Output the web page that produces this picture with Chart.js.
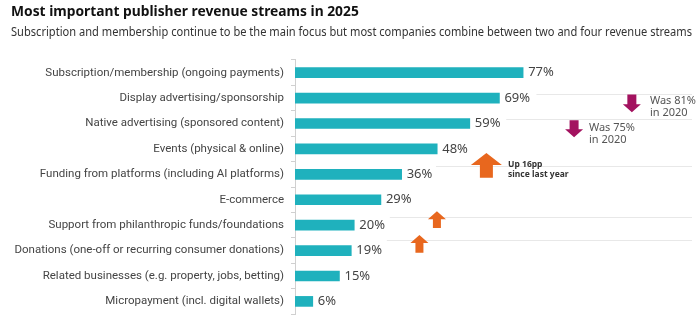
<!DOCTYPE html>
<html>
<head>
<meta charset="utf-8">
<script src="https://cdn.jsdelivr.net/npm/chart.js@4"></script>
<style>
  html, body { margin: 0; padding: 0; background: #fff; }
  #wrap { width: 700px; height: 328px; position: relative; }
</style>
</head>
<body>
<div id="wrap"><canvas id="streams"></canvas></div>
<script>
const categories = [
  'Subscription/membership (ongoing payments)',
  'Display advertising/sponsorship',
  'Native advertising (sponsored content)',
  'Events (physical & online)',
  'Funding from platforms (including AI platforms)',
  'E-commerce',
  'Support from philanthropic funds/foundations',
  'Donations (one-off or recurring consumer donations)',
  'Related businesses (e.g. property, jobs, betting)',
  'Micropayment (incl. digital wallets)',
];
const shares = [77, 69, 59, 48, 36, 29, 20, 19, 15, 6];

const FONT = '"Noto Sans", "Open Sans", sans-serif';
const TICK_FONT = 'Roboto, "Noto Sans", sans-serif';
const TEAL = '#1fb1bd';
const MAGENTA = '#a3125f';
const ORANGE = '#e8671e';

// notes drawn on the right: x in % units, y as fractional category index
const guideLines = [
  { y: 0.82, from: 81.5 },
  { y: 1.82, from: 71.3 },
  { y: 3.67, from: 47.6 },
  { y: 5.69, from: 32 },
  { y: 6.6, from: 31 },
];
const arrows = [
  { x: 113.7, top: 0.86, bottom: 1.56, dir: 'down', color: MAGENTA, w: 18, head: 8, shaft: 9 },
  { x: 94.2, top: 1.87, bottom: 2.54, dir: 'down', color: MAGENTA, w: 18, head: 8, shaft: 9 },
  { x: 64.6, top: 3.16, bottom: 4.13, dir: 'up', color: ORANGE, w: 31, head: 12, shaft: 13 },
  { x: 47.9, top: 5.45, bottom: 6.11, dir: 'up', color: ORANGE, w: 18, head: 8, shaft: 8 },
  { x: 42.0, top: 6.39, bottom: 7.09, dir: 'up', color: ORANGE, w: 18, head: 8, shaft: 8 },
];
const notes = [
  { x: 119.8, lines: [['Was 81%', 1.1], ['in 2020', 1.6]], bold: false },
  { x: 99.2, lines: [['Was 75%', 2.18], ['in 2020', 2.65]], bold: false },
  { x: 71.9, lines: [['Up 16pp', 3.62], ['since last year', 4.01]], bold: true },
];

const valueLabels = {
  id: 'valueLabels',
  afterDatasetsDraw(chart) {
    const { ctx } = chart;
    const meta = chart.getDatasetMeta(0);
    ctx.save();
    ctx.font = `13px ${FONT}`;
    ctx.fillStyle = '#444';
    ctx.textAlign = 'left';
    ctx.textBaseline = 'middle';
    meta.data.forEach((bar, i) => {
      ctx.fillText(shares[i] + '%', bar.x + 5, bar.y);
    });
    ctx.restore();
  },
};

const drawArrow = (ctx, cx, top, bottom, a) => {
  const half = a.w / 2;
  const s = a.shaft / 2;
  ctx.beginPath();
  if (a.dir === 'down') {
    const neck = bottom - a.head;
    ctx.moveTo(cx - s, top);
    ctx.lineTo(cx + s, top);
    ctx.lineTo(cx + s, neck);
    ctx.lineTo(cx + half, neck);
    ctx.lineTo(cx, bottom);
    ctx.lineTo(cx - half, neck);
    ctx.lineTo(cx - s, neck);
  } else {
    const neck = top + a.head;
    ctx.moveTo(cx - s, bottom);
    ctx.lineTo(cx + s, bottom);
    ctx.lineTo(cx + s, neck);
    ctx.lineTo(cx + half, neck);
    ctx.lineTo(cx, top);
    ctx.lineTo(cx - half, neck);
    ctx.lineTo(cx - s, neck);
  }
  ctx.closePath();
  ctx.fillStyle = a.color;
  ctx.fill();
};

const notesPlugin = {
  id: 'notes',
  afterDraw(chart) {
    const { ctx, chartArea } = chart;
    const xs = chart.scales.x;
    const ys = chart.scales.y;
    ctx.save();
    ctx.strokeStyle = '#e8e8e8';
    ctx.lineWidth = 1;
    guideLines.forEach((l) => {
      const y = Math.round(ys.getPixelForValue(l.y)) + 0.5;
      ctx.beginPath();
      ctx.moveTo(xs.getPixelForValue(l.from), y);
      ctx.lineTo(chartArea.right, y);
      ctx.stroke();
    });
    arrows.forEach((a) => {
      drawArrow(ctx, xs.getPixelForValue(a.x), ys.getPixelForValue(a.top), ys.getPixelForValue(a.bottom), a);
    });
    ctx.textAlign = 'left';
    ctx.textBaseline = 'middle';
    notes.forEach((n) => {
      ctx.font = n.bold ? `bold 8.5px ${FONT}` : `11px ${FONT}`;
      ctx.fillStyle = n.bold ? '#333' : '#555';
      n.lines.forEach(([txt, yv]) => {
        ctx.fillText(txt, xs.getPixelForValue(n.x), ys.getPixelForValue(yv));
      });
    });
    ctx.restore();
  },
};

new Chart(document.getElementById('streams'), {
  type: 'bar',
  data: {
    labels: categories,
    datasets: [{
      data: shares,
      backgroundColor: TEAL,
      barThickness: 10,
    }],
  },
  options: {
    indexAxis: 'y',
    responsive: true,
    maintainAspectRatio: false,
    animation: false,
    layout: { padding: { left: 11, right: 8, bottom: 11, top: 0 } },
    scales: {
      x: { display: false, min: 0, max: 134 },
      y: {
        afterFit(scale) { scale.width = 284; },
        border: { display: true, color: '#d0d0d0' },
        grid: { display: true, drawOnChartArea: false, tickLength: 4, color: '#d0d0d0', offset: true },
        ticks: { color: '#444', padding: 7, font: { family: TICK_FONT, size: 11.5 } },
      },
    },
    plugins: {
      legend: { display: false },
      tooltip: { enabled: false },
      title: {
        display: true,
        text: 'Most important publisher revenue streams in 2025',
        align: 'start',
        color: '#111',
        font: { family: FONT, size: 13.8, weight: 'bold' },
        padding: { top: 4, bottom: 4 },
      },
      subtitle: {
        display: true,
        text: 'Subscription and membership continue to be the main focus but most companies combine between two and four revenue streams',
        align: 'start',
        color: '#333',
        font: { family: FONT, size: 13 },
        padding: { top: 0, bottom: 19.8 },
      },
    },
  },
  plugins: [valueLabels, notesPlugin],
});
</script>
</body>
</html>
